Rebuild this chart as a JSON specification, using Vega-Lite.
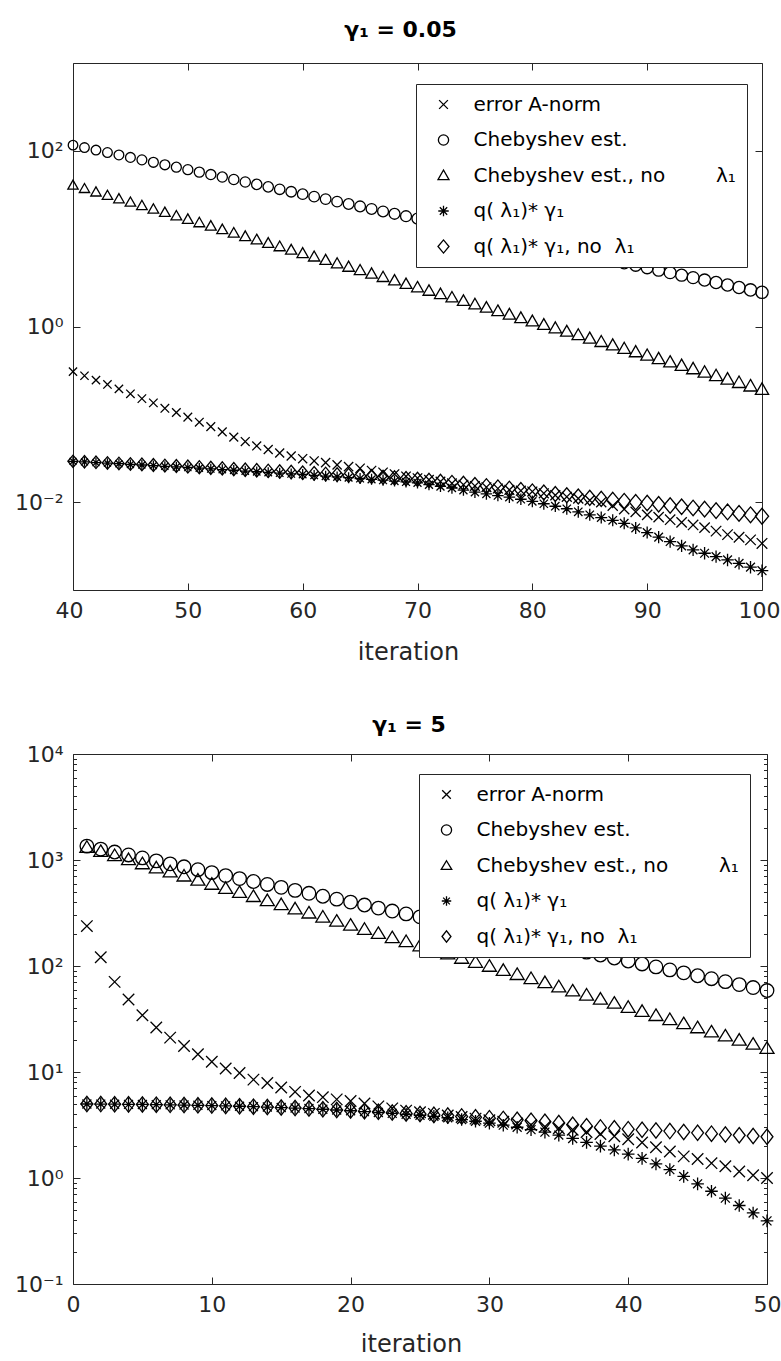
{
"$schema": "https://vega.github.io/schema/vega-lite/v6.json",
"padding": {"left": 14, "top": 18, "right": 0, "bottom": 0},
"bounds": "flush",
"spacing": 164,
"background": "white",
"resolve": {"scale": {"shape": "independent", "size": "independent"}, "legend": {"shape": "independent"}},
"config": {
  "view": {"stroke": "#262626", "strokeWidth": 1},
  "font": "DejaVu Sans",
  "axis": {"domain": false, "grid": false, "labelFont": "DejaVu Sans", "labelFontSize": 22, "labelColor": "#262626", "tickColor": "#262626", "tickWidth": 1, "titleFont": "DejaVu Sans", "titleFontSize": 24, "titleFontWeight": "normal", "titleColor": "#262626", "labelFlush": false, "labelOverlap": false}
},
"datasets": {
"top": [
{"s":"e","i":40,"v":0.306},{"s":"e","i":41,"v":0.275},{"s":"e","i":42,"v":0.245},{"s":"e","i":43,"v":0.219},{"s":"e","i":44,"v":0.195},{"s":"e","i":45,"v":0.171},{"s":"e","i":46,"v":0.151},{"s":"e","i":47,"v":0.135},{"s":"e","i":48,"v":0.117},{"s":"e","i":49,"v":0.105},
{"s":"e","i":50,"v":0.0929},{"s":"e","i":51,"v":0.0813},{"s":"e","i":52,"v":0.0724},{"s":"e","i":53,"v":0.0631},{"s":"e","i":54,"v":0.0550},{"s":"e","i":55,"v":0.0490},{"s":"e","i":56,"v":0.0437},{"s":"e","i":57,"v":0.0398},{"s":"e","i":58,"v":0.0363},{"s":"e","i":59,"v":0.0335},
{"s":"e","i":60,"v":0.0313},{"s":"e","i":61,"v":0.0295},{"s":"e","i":62,"v":0.0282},{"s":"e","i":63,"v":0.0266},{"s":"e","i":64,"v":0.0254},{"s":"e","i":65,"v":0.0243},{"s":"e","i":66,"v":0.0229},{"s":"e","i":67,"v":0.0219},{"s":"e","i":68,"v":0.0209},{"s":"e","i":69,"v":0.0197},
{"s":"e","i":70,"v":0.0188},{"s":"e","i":71,"v":0.0180},{"s":"e","i":72,"v":0.0172},{"s":"e","i":73,"v":0.0164},{"s":"e","i":74,"v":0.0158},{"s":"e","i":75,"v":0.0153},{"s":"e","i":76,"v":0.0148},{"s":"e","i":77,"v":0.0143},{"s":"e","i":78,"v":0.0138},{"s":"e","i":79,"v":0.0135},
{"s":"e","i":80,"v":0.0132},{"s":"e","i":81,"v":0.0126},{"s":"e","i":82,"v":0.0120},{"s":"e","i":83,"v":0.0115},{"s":"e","i":84,"v":0.0110},{"s":"e","i":85,"v":0.0105},{"s":"e","i":86,"v":0.0100},{"s":"e","i":87,"v":0.00912},{"s":"e","i":88,"v":0.00832},{"s":"e","i":89,"v":0.00776},
{"s":"e","i":90,"v":0.00718},{"s":"e","i":91,"v":0.00676},{"s":"e","i":92,"v":0.00631},{"s":"e","i":93,"v":0.00589},{"s":"e","i":94,"v":0.00550},{"s":"e","i":95,"v":0.00513},{"s":"e","i":96,"v":0.00468},{"s":"e","i":97,"v":0.00427},{"s":"e","i":98,"v":0.00398},{"s":"e","i":99,"v":0.00372},{"s":"e","i":100,"v":0.00339},
{"s":"c","i":40,"v":116},{"s":"c","i":41,"v":109},{"s":"c","i":42,"v":102},{"s":"c","i":43,"v":95.7},{"s":"c","i":44,"v":89.8},{"s":"c","i":45,"v":84.2},{"s":"c","i":46,"v":78.9},{"s":"c","i":47,"v":74.0},{"s":"c","i":48,"v":69.4},{"s":"c","i":49,"v":65.1},
{"s":"c","i":50,"v":61.0},{"s":"c","i":51,"v":57.2},{"s":"c","i":52,"v":53.7},{"s":"c","i":53,"v":50.3},{"s":"c","i":54,"v":47.2},{"s":"c","i":55,"v":44.2},{"s":"c","i":56,"v":41.5},{"s":"c","i":57,"v":38.9},{"s":"c","i":58,"v":36.5},{"s":"c","i":59,"v":34.2},
{"s":"c","i":60,"v":32.1},{"s":"c","i":61,"v":30.1},{"s":"c","i":62,"v":28.2},{"s":"c","i":63,"v":26.4},{"s":"c","i":64,"v":24.8},{"s":"c","i":65,"v":23.3},{"s":"c","i":66,"v":21.8},{"s":"c","i":67,"v":20.4},{"s":"c","i":68,"v":19.2},{"s":"c","i":69,"v":18.0},
{"s":"c","i":70,"v":16.9},{"s":"c","i":71,"v":15.8},{"s":"c","i":72,"v":14.8},{"s":"c","i":73,"v":13.9},{"s":"c","i":74,"v":13.0},{"s":"c","i":75,"v":12.2},{"s":"c","i":76,"v":11.4},{"s":"c","i":77,"v":10.7},{"s":"c","i":78,"v":10.05},{"s":"c","i":79,"v":9.42},
{"s":"c","i":80,"v":8.87},{"s":"c","i":81,"v":8.32},{"s":"c","i":82,"v":7.80},{"s":"c","i":83,"v":7.31},{"s":"c","i":84,"v":6.86},{"s":"c","i":85,"v":6.43},{"s":"c","i":86,"v":6.03},{"s":"c","i":87,"v":5.65},{"s":"c","i":88,"v":5.30},{"s":"c","i":89,"v":4.97},
{"s":"c","i":90,"v":4.66},{"s":"c","i":91,"v":4.37},{"s":"c","i":92,"v":4.10},{"s":"c","i":93,"v":3.84},{"s":"c","i":94,"v":3.60},{"s":"c","i":95,"v":3.38},{"s":"c","i":96,"v":3.17},{"s":"c","i":97,"v":2.97},{"s":"c","i":98,"v":2.78},{"s":"c","i":99,"v":2.61},{"s":"c","i":100,"v":2.45},
{"s":"t","i":40,"v":40.6},{"s":"t","i":41,"v":37.1},{"s":"t","i":42,"v":33.9},{"s":"t","i":43,"v":31.0},{"s":"t","i":44,"v":28.4},{"s":"t","i":45,"v":26.0},{"s":"t","i":46,"v":23.8},{"s":"t","i":47,"v":21.7},{"s":"t","i":48,"v":19.9},{"s":"t","i":49,"v":18.2},
{"s":"t","i":50,"v":16.6},{"s":"t","i":51,"v":15.2},{"s":"t","i":52,"v":13.9},{"s":"t","i":53,"v":12.7},{"s":"t","i":54,"v":11.6},{"s":"t","i":55,"v":10.6},{"s":"t","i":56,"v":9.72},{"s":"t","i":57,"v":8.89},{"s":"t","i":58,"v":8.13},{"s":"t","i":59,"v":7.44},
{"s":"t","i":60,"v":6.81},{"s":"t","i":61,"v":6.23},{"s":"t","i":62,"v":5.70},{"s":"t","i":63,"v":5.21},{"s":"t","i":64,"v":4.77},{"s":"t","i":65,"v":4.36},{"s":"t","i":66,"v":3.99},{"s":"t","i":67,"v":3.65},{"s":"t","i":68,"v":3.34},{"s":"t","i":69,"v":3.05},
{"s":"t","i":70,"v":2.79},{"s":"t","i":71,"v":2.55},{"s":"t","i":72,"v":2.34},{"s":"t","i":73,"v":2.14},{"s":"t","i":74,"v":1.96},{"s":"t","i":75,"v":1.79},{"s":"t","i":76,"v":1.64},{"s":"t","i":77,"v":1.50},{"s":"t","i":78,"v":1.37},{"s":"t","i":79,"v":1.25},
{"s":"t","i":80,"v":1.145},{"s":"t","i":81,"v":1.047},{"s":"t","i":82,"v":0.958},{"s":"t","i":83,"v":0.876},{"s":"t","i":84,"v":0.801},{"s":"t","i":85,"v":0.733},{"s":"t","i":86,"v":0.670},{"s":"t","i":87,"v":0.613},{"s":"t","i":88,"v":0.561},{"s":"t","i":89,"v":0.513},
{"s":"t","i":90,"v":0.469},{"s":"t","i":91,"v":0.429},{"s":"t","i":92,"v":0.393},{"s":"t","i":93,"v":0.359},{"s":"t","i":94,"v":0.329},{"s":"t","i":95,"v":0.301},{"s":"t","i":96,"v":0.275},{"s":"t","i":97,"v":0.251},{"s":"t","i":98,"v":0.230},{"s":"t","i":99,"v":0.210},{"s":"t","i":100,"v":0.192},
{"s":"a","i":40,"v":0.0292},{"s":"a","i":41,"v":0.0287},{"s":"a","i":42,"v":0.0282},{"s":"a","i":43,"v":0.0278},{"s":"a","i":44,"v":0.0274},{"s":"a","i":45,"v":0.0269},{"s":"a","i":46,"v":0.0265},{"s":"a","i":47,"v":0.0261},{"s":"a","i":48,"v":0.0256},{"s":"a","i":49,"v":0.0252},
{"s":"a","i":50,"v":0.0248},{"s":"a","i":51,"v":0.0244},{"s":"a","i":52,"v":0.0239},{"s":"a","i":53,"v":0.0235},{"s":"a","i":54,"v":0.0231},{"s":"a","i":55,"v":0.0226},{"s":"a","i":56,"v":0.0222},{"s":"a","i":57,"v":0.0218},{"s":"a","i":58,"v":0.0214},{"s":"a","i":59,"v":0.0210},
{"s":"a","i":60,"v":0.0207},{"s":"a","i":61,"v":0.0202},{"s":"a","i":62,"v":0.0198},{"s":"a","i":63,"v":0.0194},{"s":"a","i":64,"v":0.0190},{"s":"a","i":65,"v":0.0186},{"s":"a","i":66,"v":0.0182},{"s":"a","i":67,"v":0.0178},{"s":"a","i":68,"v":0.0174},{"s":"a","i":69,"v":0.0170},
{"s":"a","i":70,"v":0.0166},{"s":"a","i":71,"v":0.0158},{"s":"a","i":72,"v":0.0151},{"s":"a","i":73,"v":0.0145},{"s":"a","i":74,"v":0.0137},{"s":"a","i":75,"v":0.0130},{"s":"a","i":76,"v":0.0124},{"s":"a","i":77,"v":0.0119},{"s":"a","i":78,"v":0.0114},{"s":"a","i":79,"v":0.0108},
{"s":"a","i":80,"v":0.0102},{"s":"a","i":81,"v":0.00959},{"s":"a","i":82,"v":0.00899},{"s":"a","i":83,"v":0.00841},{"s":"a","i":84,"v":0.00776},{"s":"a","i":85,"v":0.00718},{"s":"a","i":86,"v":0.00668},{"s":"a","i":87,"v":0.00621},{"s":"a","i":88,"v":0.00575},{"s":"a","i":89,"v":0.00509},
{"s":"a","i":90,"v":0.00451},{"s":"a","i":91,"v":0.00400},{"s":"a","i":92,"v":0.00356},{"s":"a","i":93,"v":0.00318},{"s":"a","i":94,"v":0.00286},{"s":"a","i":95,"v":0.00262},{"s":"a","i":96,"v":0.00240},{"s":"a","i":97,"v":0.00220},{"s":"a","i":98,"v":0.00201},{"s":"a","i":99,"v":0.00182},{"s":"a","i":100,"v":0.00166},
{"s":"d","i":40,"v":0.0292},{"s":"d","i":41,"v":0.0288},{"s":"d","i":42,"v":0.0284},{"s":"d","i":43,"v":0.0280},{"s":"d","i":44,"v":0.0276},{"s":"d","i":45,"v":0.0272},{"s":"d","i":46,"v":0.0269},{"s":"d","i":47,"v":0.0265},{"s":"d","i":48,"v":0.0261},{"s":"d","i":49,"v":0.0258},
{"s":"d","i":50,"v":0.0254},{"s":"d","i":51,"v":0.0250},{"s":"d","i":52,"v":0.0246},{"s":"d","i":53,"v":0.0242},{"s":"d","i":54,"v":0.0238},{"s":"d","i":55,"v":0.0234},{"s":"d","i":56,"v":0.0231},{"s":"d","i":57,"v":0.0227},{"s":"d","i":58,"v":0.0223},{"s":"d","i":59,"v":0.0220},
{"s":"d","i":60,"v":0.0216},{"s":"d","i":61,"v":0.0213},{"s":"d","i":62,"v":0.0209},{"s":"d","i":63,"v":0.0206},{"s":"d","i":64,"v":0.0202},{"s":"d","i":65,"v":0.0199},{"s":"d","i":66,"v":0.0196},{"s":"d","i":67,"v":0.0192},{"s":"d","i":68,"v":0.0189},{"s":"d","i":69,"v":0.0185},
{"s":"d","i":70,"v":0.0182},{"s":"d","i":71,"v":0.0177},{"s":"d","i":72,"v":0.0172},{"s":"d","i":73,"v":0.0167},{"s":"d","i":74,"v":0.0163},{"s":"d","i":75,"v":0.0158},{"s":"d","i":76,"v":0.0153},{"s":"d","i":77,"v":0.0148},{"s":"d","i":78,"v":0.0143},{"s":"d","i":79,"v":0.0138},
{"s":"d","i":80,"v":0.0133},{"s":"d","i":81,"v":0.0129},{"s":"d","i":82,"v":0.0124},{"s":"d","i":83,"v":0.0120},{"s":"d","i":84,"v":0.0116},{"s":"d","i":85,"v":0.0112},{"s":"d","i":86,"v":0.0109},{"s":"d","i":87,"v":0.0106},{"s":"d","i":88,"v":0.0103},{"s":"d","i":89,"v":0.0100},
{"s":"d","i":90,"v":0.00977},{"s":"d","i":91,"v":0.00946},{"s":"d","i":92,"v":0.00916},{"s":"d","i":93,"v":0.00887},{"s":"d","i":94,"v":0.00859},{"s":"d","i":95,"v":0.00832},{"s":"d","i":96,"v":0.00802},{"s":"d","i":97,"v":0.00773},{"s":"d","i":98,"v":0.00745},{"s":"d","i":99,"v":0.00718},{"s":"d","i":100,"v":0.00692}
],
"bot": [
{"s":"e","i":1,"v":238},{"s":"e","i":2,"v":121},{"s":"e","i":3,"v":70.8},{"s":"e","i":4,"v":48.3},{"s":"e","i":5,"v":34.3},{"s":"e","i":6,"v":26.3},{"s":"e","i":7,"v":21.1},{"s":"e","i":8,"v":17.6},{"s":"e","i":9,"v":14.7},{"s":"e","i":10,"v":12.5},
{"s":"e","i":11,"v":10.8},{"s":"e","i":12,"v":9.79},{"s":"e","i":13,"v":8.47},{"s":"e","i":14,"v":7.87},{"s":"e","i":15,"v":7.13},{"s":"e","i":16,"v":6.50},{"s":"e","i":17,"v":6.01},{"s":"e","i":18,"v":5.79},{"s":"e","i":19,"v":5.52},{"s":"e","i":20,"v":5.33},
{"s":"e","i":21,"v":5.05},{"s":"e","i":22,"v":4.74},{"s":"e","i":23,"v":4.54},{"s":"e","i":24,"v":4.32},{"s":"e","i":25,"v":4.17},{"s":"e","i":26,"v":4.03},{"s":"e","i":27,"v":3.89},{"s":"e","i":28,"v":3.76},{"s":"e","i":29,"v":3.63},{"s":"e","i":30,"v":3.51},
{"s":"e","i":31,"v":3.39},{"s":"e","i":32,"v":3.27},{"s":"e","i":33,"v":3.16},{"s":"e","i":34,"v":3.05},{"s":"e","i":35,"v":2.95},{"s":"e","i":36,"v":2.85},{"s":"e","i":37,"v":2.72},{"s":"e","i":38,"v":2.60},{"s":"e","i":39,"v":2.48},{"s":"e","i":40,"v":2.32},
{"s":"e","i":41,"v":2.16},{"s":"e","i":42,"v":1.95},{"s":"e","i":43,"v":1.78},{"s":"e","i":44,"v":1.60},{"s":"e","i":45,"v":1.51},{"s":"e","i":46,"v":1.38},{"s":"e","i":47,"v":1.29},{"s":"e","i":48,"v":1.15},{"s":"e","i":49,"v":1.06},{"s":"e","i":50,"v":1.00},
{"s":"c","i":1,"v":1352},{"s":"c","i":2,"v":1268},{"s":"c","i":3,"v":1189},{"s":"c","i":4,"v":1116},{"s":"c","i":5,"v":1046},{"s":"c","i":6,"v":981},{"s":"c","i":7,"v":920},{"s":"c","i":8,"v":863},{"s":"c","i":9,"v":810},{"s":"c","i":10,"v":760},
{"s":"c","i":11,"v":713},{"s":"c","i":12,"v":668},{"s":"c","i":13,"v":627},{"s":"c","i":14,"v":588},{"s":"c","i":15,"v":552},{"s":"c","i":16,"v":517},{"s":"c","i":17,"v":485},{"s":"c","i":18,"v":455},{"s":"c","i":19,"v":427},{"s":"c","i":20,"v":401},
{"s":"c","i":21,"v":376},{"s":"c","i":22,"v":352},{"s":"c","i":23,"v":330},{"s":"c","i":24,"v":310},{"s":"c","i":25,"v":291},{"s":"c","i":26,"v":273},{"s":"c","i":27,"v":256},{"s":"c","i":28,"v":240},{"s":"c","i":29,"v":225},{"s":"c","i":30,"v":211},
{"s":"c","i":31,"v":198},{"s":"c","i":32,"v":186},{"s":"c","i":33,"v":174},{"s":"c","i":34,"v":164},{"s":"c","i":35,"v":153},{"s":"c","i":36,"v":144},{"s":"c","i":37,"v":135},{"s":"c","i":38,"v":127},{"s":"c","i":39,"v":119},{"s":"c","i":40,"v":111.4},
{"s":"c","i":41,"v":104.5},{"s":"c","i":42,"v":98.0},{"s":"c","i":43,"v":91.9},{"s":"c","i":44,"v":86.2},{"s":"c","i":45,"v":80.9},{"s":"c","i":46,"v":75.9},{"s":"c","i":47,"v":71.2},{"s":"c","i":48,"v":66.8},{"s":"c","i":49,"v":62.6},{"s":"c","i":50,"v":58.7},
{"s":"t","i":1,"v":1324},{"s":"t","i":2,"v":1211},{"s":"t","i":3,"v":1108},{"s":"t","i":4,"v":1014},{"s":"t","i":5,"v":927},{"s":"t","i":6,"v":848},{"s":"t","i":7,"v":776},{"s":"t","i":8,"v":710},{"s":"t","i":9,"v":649},{"s":"t","i":10,"v":594},
{"s":"t","i":11,"v":543},{"s":"t","i":12,"v":497},{"s":"t","i":13,"v":455},{"s":"t","i":14,"v":416},{"s":"t","i":15,"v":381},{"s":"t","i":16,"v":348},{"s":"t","i":17,"v":318},{"s":"t","i":18,"v":291},{"s":"t","i":19,"v":266},{"s":"t","i":20,"v":244},
{"s":"t","i":21,"v":223},{"s":"t","i":22,"v":204},{"s":"t","i":23,"v":186},{"s":"t","i":24,"v":171},{"s":"t","i":25,"v":156},{"s":"t","i":26,"v":143},{"s":"t","i":27,"v":131},{"s":"t","i":28,"v":119},{"s":"t","i":29,"v":109},{"s":"t","i":30,"v":100},
{"s":"t","i":31,"v":91.4},{"s":"t","i":32,"v":83.6},{"s":"t","i":33,"v":76.5},{"s":"t","i":34,"v":70.0},{"s":"t","i":35,"v":64.0},{"s":"t","i":36,"v":58.5},{"s":"t","i":37,"v":53.5},{"s":"t","i":38,"v":49.0},{"s":"t","i":39,"v":44.8},{"s":"t","i":40,"v":41.0},
{"s":"t","i":41,"v":37.5},{"s":"t","i":42,"v":34.3},{"s":"t","i":43,"v":31.4},{"s":"t","i":44,"v":28.7},{"s":"t","i":45,"v":26.3},{"s":"t","i":46,"v":24.0},{"s":"t","i":47,"v":22.0},{"s":"t","i":48,"v":20.1},{"s":"t","i":49,"v":18.4},{"s":"t","i":50,"v":16.8},
{"s":"a","i":1,"v":4.99},{"s":"a","i":2,"v":4.98},{"s":"a","i":3,"v":4.97},{"s":"a","i":4,"v":4.95},{"s":"a","i":5,"v":4.94},{"s":"a","i":6,"v":4.92},{"s":"a","i":7,"v":4.90},{"s":"a","i":8,"v":4.88},{"s":"a","i":9,"v":4.85},{"s":"a","i":10,"v":4.82},
{"s":"a","i":11,"v":4.79},{"s":"a","i":12,"v":4.75},{"s":"a","i":13,"v":4.71},{"s":"a","i":14,"v":4.67},{"s":"a","i":15,"v":4.62},{"s":"a","i":16,"v":4.57},{"s":"a","i":17,"v":4.52},{"s":"a","i":18,"v":4.45},{"s":"a","i":19,"v":4.38},{"s":"a","i":20,"v":4.31},
{"s":"a","i":21,"v":4.23},{"s":"a","i":22,"v":4.15},{"s":"a","i":23,"v":4.07},{"s":"a","i":24,"v":3.99},{"s":"a","i":25,"v":3.91},{"s":"a","i":26,"v":3.82},{"s":"a","i":27,"v":3.70},{"s":"a","i":28,"v":3.56},{"s":"a","i":29,"v":3.43},{"s":"a","i":30,"v":3.29},
{"s":"a","i":31,"v":3.15},{"s":"a","i":32,"v":3.01},{"s":"a","i":33,"v":2.86},{"s":"a","i":34,"v":2.71},{"s":"a","i":35,"v":2.54},{"s":"a","i":36,"v":2.36},{"s":"a","i":37,"v":2.17},{"s":"a","i":38,"v":2.00},{"s":"a","i":39,"v":1.84},{"s":"a","i":40,"v":1.68},
{"s":"a","i":41,"v":1.53},{"s":"a","i":42,"v":1.36},{"s":"a","i":43,"v":1.20},{"s":"a","i":44,"v":1.035},{"s":"a","i":45,"v":0.881},{"s":"a","i":46,"v":0.750},{"s":"a","i":47,"v":0.646},{"s":"a","i":48,"v":0.550},{"s":"a","i":49,"v":0.468},{"s":"a","i":50,"v":0.394},
{"s":"d","i":1,"v":4.99},{"s":"d","i":2,"v":4.98},{"s":"d","i":3,"v":4.97},{"s":"d","i":4,"v":4.95},{"s":"d","i":5,"v":4.94},{"s":"d","i":6,"v":4.92},{"s":"d","i":7,"v":4.90},{"s":"d","i":8,"v":4.88},{"s":"d","i":9,"v":4.85},{"s":"d","i":10,"v":4.82},
{"s":"d","i":11,"v":4.79},{"s":"d","i":12,"v":4.75},{"s":"d","i":13,"v":4.71},{"s":"d","i":14,"v":4.67},{"s":"d","i":15,"v":4.62},{"s":"d","i":16,"v":4.57},{"s":"d","i":17,"v":4.52},{"s":"d","i":18,"v":4.45},{"s":"d","i":19,"v":4.38},{"s":"d","i":20,"v":4.33},
{"s":"d","i":21,"v":4.27},{"s":"d","i":22,"v":4.21},{"s":"d","i":23,"v":4.14},{"s":"d","i":24,"v":4.07},{"s":"d","i":25,"v":4.01},{"s":"d","i":26,"v":3.94},{"s":"d","i":27,"v":3.88},{"s":"d","i":28,"v":3.81},{"s":"d","i":29,"v":3.74},{"s":"d","i":30,"v":3.67},
{"s":"d","i":31,"v":3.61},{"s":"d","i":32,"v":3.54},{"s":"d","i":33,"v":3.47},{"s":"d","i":34,"v":3.39},{"s":"d","i":35,"v":3.30},{"s":"d","i":36,"v":3.18},{"s":"d","i":37,"v":3.08},{"s":"d","i":38,"v":3.00},{"s":"d","i":39,"v":2.94},{"s":"d","i":40,"v":2.89},
{"s":"d","i":41,"v":2.85},{"s":"d","i":42,"v":2.81},{"s":"d","i":43,"v":2.77},{"s":"d","i":44,"v":2.72},{"s":"d","i":45,"v":2.67},{"s":"d","i":46,"v":2.62},{"s":"d","i":47,"v":2.57},{"s":"d","i":48,"v":2.53},{"s":"d","i":49,"v":2.49},{"s":"d","i":50,"v":2.45}
]
},
"vconcat": [
{
  "width": 689,
  "height": 527,
  "title": {"text": "γ₁ = 0.05", "font": "DejaVu Sans", "fontSize": 22, "fontWeight": "bold", "color": "black", "frame": "group", "anchor": "middle", "dx": -17, "offset": 4, "baseline": "alphabetic"},
  "data": {"name": "top"},
  "layer": [
    {
      "mark": {"type": "point", "filled": false, "color": "black", "strokeWidth": 1.3, "opacity": 1},
      "encoding": {
        "x": {"field": "i", "type": "quantitative", "scale": {"domain": [40, 100], "nice": false, "zero": false},
              "axis": {"values": [40, 50, 60, 70, 80, 90, 100], "tickSize": -7, "labelPadding": 17, "labelFlush": true, "labelFlushOffset": 18, "title": "iteration", "titleX": 335, "titleY": 69, "titleBaseline": "alphabetic", "titleAlign": "center"}},
        "y": {"field": "v", "type": "quantitative", "scale": {"type": "log", "domain": [0.001, 1000], "nice": false},
              "axis": {"values": [0.01, 1, 100], "tickSize": -7, "labelPadding": 17, "title": null, "labelBaseline": "middle",
                       "labelExpr": "datum.value == 100 ? '10²' : datum.value == 1 ? '10⁰' : datum.value == 0.01 ? '10⁻²' : ''"}},
        "size": {"field": "i", "type": "quantitative", "scale": {"domain": [40, 100], "range": [105, 175], "zero": false}, "legend": null},
        "shape": {"field": "s", "type": "nominal",
                  "scale": {"domain": ["e", "c", "t", "a", "d"],
                            "range": ["M-0.8,-0.8L0.8,0.8M-0.8,0.8L0.8,-0.8",
                                      "M0.93,0A0.93,0.93,0,1,1,-0.93,0A0.93,0.93,0,1,1,0.93,0Z",
                                      "M0,-1L1,0.75L-1,0.75Z",
                                      "M-0.95,0L0.95,0M0,-0.95L0,0.95M-0.67,-0.67L0.67,0.67M-0.67,0.67L0.67,-0.67",
                                      "M-1,0L0,-1.2L1,0L0,1.2Z"]},
                  "legend": {"orient": "none", "legendX": 343, "legendY": 21, "title": null, "padding": 10.5,
                             "strokeColor": "#262626", "fillColor": "white", "labelFont": "DejaVu Sans", "labelFontSize": 20, "labelColor": "black", "labelLimit": 400,
                             "symbolSize": 121, "symbolStrokeColor": "black", "symbolStrokeWidth": 1.3, "symbolFillColor": "transparent",
                             "rowPadding": 15.5, "labelOffset": 20, "symbolOffset": 7,
                             "labelExpr": "datum.value == 'e' ? 'error A-norm' : datum.value == 'c' ? 'Chebyshev est.' : datum.value == 't' ? 'Chebyshev est., no\u00a0\u00a0\u00a0\u00a0\u00a0\u00a0\u00a0\u00a0λ₁' : datum.value == 'a' ? 'q(\u00a0λ₁)*\u00a0γ₁' : 'q(\u00a0λ₁)*\u00a0γ₁, no\u00a0\u00a0λ₁'"}}
      }
    },
    {
      "mark": {"type": "point", "opacity": 0},
      "encoding": {
        "x": {"field": "i", "type": "quantitative", "scale": {"domain": [40, 100], "nice": false, "zero": false},
              "axis": {"orient": "top", "values": [40, 50, 60, 70, 80, 90, 100], "tickSize": -7, "labels": false, "title": null}},
        "y": {"field": "v", "type": "quantitative", "scale": {"type": "log", "domain": [0.001, 1000], "nice": false},
              "axis": {"orient": "right", "values": [0.01, 1, 100], "tickSize": -7, "labels": false, "title": null}}
      }
    }
  ],
  "resolve": {"axis": {"x": "independent", "y": "independent"}}
},
{
  "width": 694,
  "height": 530,
  "title": {"text": "γ₁ = 5", "font": "DejaVu Sans", "fontSize": 22, "fontWeight": "bold", "color": "black", "frame": "group", "anchor": "middle", "dx": -11, "dy": 11, "offset": 0, "baseline": "alphabetic"},
  "data": {"name": "bot"},
  "layer": [
    {
      "mark": {"type": "point", "filled": false, "color": "black", "strokeWidth": 1.3, "size": 196, "opacity": 1},
      "encoding": {
        "x": {"field": "i", "type": "quantitative", "scale": {"domain": [0, 50], "nice": false, "zero": false},
              "axis": {"values": [0, 10, 20, 30, 40, 50], "tickSize": -7, "labelPadding": 17, "title": "iteration", "titleX": 338, "titleY": 67, "titleBaseline": "alphabetic", "titleAlign": "center"}},
        "y": {"field": "v", "type": "quantitative", "scale": {"type": "log", "domain": [0.1, 10000], "nice": false},
              "axis": {"values": [0.1,0.2,0.3,0.4,0.5,0.6,0.7,0.8,0.9,1,2,3,4,5,6,7,8,9,10,20,30,40,50,60,70,80,90,100,200,300,400,500,600,700,800,900,1000,2000,3000,4000,5000,6000,7000,8000,9000,10000],
                       "tickSize": {"condition": {"test": "indexof([0.1,1,10,100,1000,10000], datum.value) >= 0", "value": -7}, "value": -3.5},
                       "labelPadding": 17, "title": null, "labelBaseline": "middle",
                       "labelExpr": "datum.value == 10000 ? '10⁴' : datum.value == 1000 ? '10³' : datum.value == 100 ? '10²' : datum.value == 10 ? '10¹' : datum.value == 1 ? '10⁰' : datum.value == 0.1 ? '10⁻¹' : ''"}},
        "shape": {"field": "s", "type": "nominal",
                  "scale": {"domain": ["e", "c", "t", "a", "d"],
                            "range": ["M-0.82,-0.82L0.82,0.82M-0.82,0.82L0.82,-0.82",
                                      "M0.97,0A0.97,0.97,0,1,1,-0.97,0A0.97,0.97,0,1,1,0.97,0Z",
                                      "M0,-0.9L1,0.75L-1,0.75Z",
                                      "M-0.9,0L0.9,0M0,-0.9L0,0.9M-0.64,-0.64L0.64,0.64M-0.64,0.64L0.64,-0.64",
                                      "M-0.85,0L0,-1.1L0.85,0L0,1.1Z"]},
                  "legend": {"orient": "none", "legendX": 346, "legendY": 20, "title": null, "padding": 10.5,
                             "strokeColor": "#262626", "fillColor": "white", "labelFont": "DejaVu Sans", "labelFontSize": 20, "labelColor": "black", "labelLimit": 400,
                             "symbolSize": 110, "symbolStrokeColor": "black", "symbolStrokeWidth": 1.3, "symbolFillColor": "transparent",
                             "rowPadding": 15.5, "labelOffset": 20, "symbolOffset": 7,
                             "labelExpr": "datum.value == 'e' ? 'error A-norm' : datum.value == 'c' ? 'Chebyshev est.' : datum.value == 't' ? 'Chebyshev est., no\u00a0\u00a0\u00a0\u00a0\u00a0\u00a0\u00a0\u00a0λ₁' : datum.value == 'a' ? 'q(\u00a0λ₁)*\u00a0γ₁' : 'q(\u00a0λ₁)*\u00a0γ₁, no\u00a0\u00a0λ₁'"}}
      }
    },
    {
      "mark": {"type": "point", "opacity": 0},
      "encoding": {
        "x": {"field": "i", "type": "quantitative", "scale": {"domain": [0, 50], "nice": false, "zero": false},
              "axis": {"orient": "top", "values": [0, 10, 20, 30, 40, 50], "tickSize": -7, "labels": false, "title": null}},
        "y": {"field": "v", "type": "quantitative", "scale": {"type": "log", "domain": [0.1, 10000], "nice": false},
              "axis": {"orient": "right", "values": [0.1,0.2,0.3,0.4,0.5,0.6,0.7,0.8,0.9,1,2,3,4,5,6,7,8,9,10,20,30,40,50,60,70,80,90,100,200,300,400,500,600,700,800,900,1000,2000,3000,4000,5000,6000,7000,8000,9000,10000],
                       "tickSize": {"condition": {"test": "indexof([0.1,1,10,100,1000,10000], datum.value) >= 0", "value": -7}, "value": -3.5},
                       "labels": false, "title": null}}
      }
    }
  ],
  "resolve": {"axis": {"x": "independent", "y": "independent"}}
}
]
}
